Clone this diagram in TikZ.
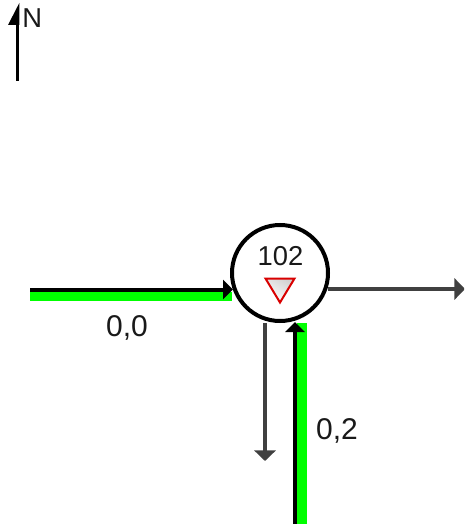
\documentclass[tikz,border=0pt]{standalone}
\usepackage{fontspec}
\setmainfont{Liberation Sans}
\usetikzlibrary{arrows.meta}
\definecolor{lanegreen}{RGB}{0,255,0}
\definecolor{movegray}{RGB}{64,64,64}
\tikzset{
  px/.style={x=0.75pt,y=-0.75pt},
  lbl/.style={font=\fontsize{22.5pt}{25pt}\selectfont,inner sep=0pt,text=black!90},
  smalllbl/.style={font=\fontsize{20.5pt}{23pt}\selectfont,inner sep=0pt,text=black!90},
  junction/.style={circle,draw=black,line width=3pt,fill=white,minimum size=72pt,inner sep=0pt},
  greenbar/.style={draw=none,fill=lanegreen},
  inlane/.style={draw=black,line width=3pt,-{Triangle[length=7.5pt,width=14.5pt]}},
  outmove/.style={draw=movegray,line width=2.6pt,-{Triangle[length=8pt,width=16pt]}},
  yieldsign/.style={draw=red!85!black,line width=1.5pt,top color=gray!35,bottom color=white,shading angle=-30,line join=miter}
}
\begin{document}
\begin{tikzpicture}[px]
\useasboundingbox (0,0) rectangle (464,524);
\clip (0,0) rectangle (464,524);
% north arrow
\coordinate (ntail) at (17.5,81);
\coordinate (nhead) at (17.5,25);
\draw[black,line width=2.7pt] (ntail) -- (nhead);
\fill[black] (19.3,3) -- (8,25) -- (19.3,25) -- cycle;
\node[smalllbl,anchor=base west] (nlabel) at (22,28) {N};
% green lanes
\fill[greenbar] (30,292) rectangle (232,301);
\fill[greenbar] (297,323) rectangle (307,524);
% junction
\node[junction] (j) at (280,273) {};
% connectors
\coordinate (w) at (30,289.5);
\coordinate (wend) at (233,289.5);
\draw[inlane] (w) -- (wend);
\coordinate (s) at (295,524);
\coordinate (send) at (295,322);
\draw[inlane] (s) -- (send);
\coordinate (eout) at (328,289);
\coordinate (eend) at (465,289);
\draw[outmove] (eout) -- (eend);
\coordinate (sout) at (265,323);
\coordinate (send2) at (265,461);
\draw[outmove] (sout) -- (send2);
% sign and labels
\path[yieldsign] (265.5,278.5) -- (294.5,278.5) -- (280,302.5) -- cycle;
\node[smalllbl,anchor=base] (jlabel) at (280.5,265) {102};
\node[lbl,anchor=base] (l00) at (127,336) {0,0};
\node[lbl,anchor=base] (l02) at (337,439) {0,2};
\end{tikzpicture}
\end{document}
